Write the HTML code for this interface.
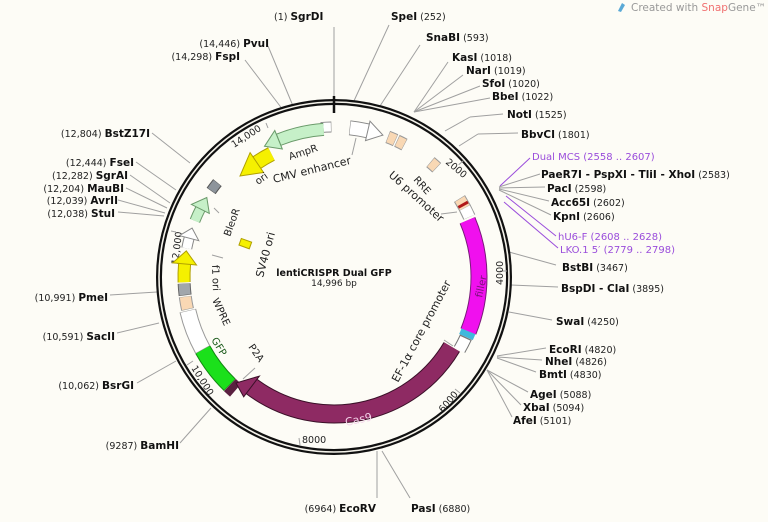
<!DOCTYPE html>
<html><head><meta charset="utf-8"><style>
html,body{margin:0;padding:0;background:#fdfcf6;}
svg{display:block;font-family:"DejaVu Sans","Liberation Sans",sans-serif;}
.b{font-weight:bold;font-size:10.5px;fill:#111;}
.n{font-size:9.5px;fill:#222;}
.p{font-size:10px;fill:#9a4ddb;}
.f{font-size:10px;fill:#222;}
.t{font-size:9.5px;fill:#222;}
line{stroke:#a0a0a0;stroke-width:1;}
.pl{stroke:#9a4ddb;}
</style></head><body>
<svg width="768" height="522" viewBox="0 0 768 522">
<rect width="768" height="522" fill="#fdfcf6"/>
<!-- logo -->
<path d="M618 11 L622 3 L625 5 L621 12 Z" fill="#5aa9d6"/>
<text x="631" y="11" font-size="10.5" fill="#999">Created with <tspan fill="#f07070">Snap</tspan>Gene™</text>

<!-- leader lines -->
<line x1="334" y1="27" x2="334" y2="103"/>
<line x1="389" y1="25" x2="353" y2="103"/>
<line x1="420" y1="45" x2="380" y2="106"/>
<line x1="448" y1="62" x2="414" y2="112"/>
<line x1="463" y1="75" x2="414" y2="112"/>
<line x1="480" y1="86" x2="414" y2="112"/>
<line x1="490" y1="98" x2="414" y2="112"/>
<line x1="503" y1="114" x2="470" y2="117"/><line x1="470" y1="117" x2="445" y2="131"/>
<line x1="518" y1="133" x2="478" y2="134"/><line x1="478" y1="134" x2="459" y2="146"/>
<line class="pl" x1="530" y1="158" x2="500" y2="186"/>
<line x1="540" y1="174" x2="499" y2="187"/>
<line x1="545" y1="187" x2="499" y2="188"/>
<line x1="549" y1="201" x2="499" y2="189"/>
<line x1="551" y1="215" x2="499" y2="190"/>
<line class="pl" x1="556" y1="236" x2="506" y2="196"/>
<line class="pl" x1="558" y1="248" x2="504" y2="202"/>
<line x1="556" y1="265" x2="509" y2="252"/>
<line x1="558" y1="287" x2="511" y2="285"/>
<line x1="552" y1="320" x2="509" y2="312"/>
<line x1="546" y1="348" x2="497" y2="356"/>
<line x1="542" y1="360" x2="497" y2="357"/>
<line x1="536" y1="372" x2="497" y2="358"/>
<line x1="528" y1="392" x2="487" y2="370"/>
<line x1="521" y1="405" x2="487" y2="370"/>
<line x1="512" y1="417" x2="487" y2="370"/>
<line x1="410" y1="498" x2="382" y2="451"/>
<line x1="377" y1="498" x2="377" y2="451"/>
<line x1="180" y1="443" x2="211" y2="408"/>
<line x1="137" y1="383" x2="176" y2="361"/>
<line x1="117" y1="333" x2="159" y2="323"/>
<line x1="110" y1="295" x2="157" y2="292"/>
<line x1="118" y1="212" x2="164" y2="216"/>
<line x1="118" y1="200" x2="165" y2="213"/>
<line x1="126" y1="188" x2="167" y2="208"/>
<line x1="130" y1="175" x2="170" y2="203"/>
<line x1="136" y1="162" x2="176" y2="190"/>
<line x1="152" y1="133" x2="190" y2="163"/>
<line x1="245" y1="60" x2="283" y2="110"/>
<line x1="268" y1="46" x2="293" y2="106"/>

<!-- backbone ring -->
<circle cx="334" cy="277" r="175" fill="none" stroke="#111" stroke-width="6"/>
<circle cx="334" cy="277" r="175" fill="none" stroke="#f4f2ea" stroke-width="1.6"/>
<line x1="334" y1="96" x2="334" y2="113" style="stroke:#111;stroke-width:2.5"/>

<!-- ticks -->
<g style="stroke:#222;stroke-width:1.5">
<line x1="458.7" y1="164.8" x2="463.3" y2="160.7"/>
<line x1="500" y1="271" x2="507" y2="271"/>
<line x1="455" y1="389" x2="460" y2="393"/>
<line x1="300" y1="445" x2="299" y2="438"/>
<line x1="187" y1="365" x2="193" y2="361"/>
<line x1="171" y1="231" x2="176" y2="232"/>
<line x1="266" y1="123" x2="268" y2="128"/>
</g>
<g class="t">
<text transform="translate(445,163) rotate(40)">2000</text>
<text transform="translate(503,285) rotate(-90)">4000</text>
<text transform="translate(443,413) rotate(-50)">6000</text>
<text x="302" y="443">8000</text>
<text transform="translate(191,368) rotate(58)">10,000</text>
<text transform="translate(178,265) rotate(-83)">12,000</text>
<text transform="translate(234,148) rotate(-33)">14,000</text>
</g>

<!-- features -->
<g fill="none">
<!-- Cas9 -->
<circle cx="334" cy="277" r="137" stroke="#3a1028" stroke-width="19" stroke-dasharray="231 2000" transform="rotate(30.7 334 277)"/>
<circle cx="334" cy="277" r="137" stroke="#8e2a63" stroke-width="17" stroke-dasharray="231 2000" transform="rotate(30.7 334 277)"/>
<!-- filler -->
<circle cx="334" cy="277" r="145" stroke="#7a1a7a" stroke-width="17" stroke-dasharray="114 2000" transform="rotate(-23 334 277)"/>
<circle cx="334" cy="277" r="145" stroke="#f010ee" stroke-width="15" stroke-dasharray="114 2000" transform="rotate(-23 334 277)"/>
<circle cx="334" cy="277" r="145" stroke="#3fb8dc" stroke-width="15" stroke-dasharray="6.3 2000" transform="rotate(22 334 277)"/>
<!-- EF1a -->
<circle cx="334" cy="277" r="145" stroke="#777" stroke-width="13" stroke-dasharray="14 2000" transform="rotate(24.5 334 277)"/>
<circle cx="334" cy="277" r="145" stroke="#fff" stroke-width="11" stroke-dasharray="13 2000" transform="rotate(25 334 277)"/>
<!-- U6 -->
<circle cx="334" cy="277" r="148" stroke="#999" stroke-width="13" stroke-dasharray="21 2000" transform="rotate(-32 334 277)"/>
<circle cx="334" cy="277" r="148" stroke="#f9d8b4" stroke-width="11" stroke-dasharray="10 2000" transform="rotate(-31.8 334 277)"/>
<circle cx="334" cy="277" r="148" stroke="#b01818" stroke-width="11" stroke-dasharray="3 2000" transform="rotate(-29.8 334 277)"/>
<circle cx="334" cy="277" r="148" stroke="#fff" stroke-width="11" stroke-dasharray="10 2000" transform="rotate(-27.8 334 277)"/>
<!-- RRE -->
<circle cx="334" cy="277" r="150" stroke="#999" stroke-width="13" stroke-dasharray="8.5 2000" transform="rotate(-50 334 277)"/>
<circle cx="334" cy="277" r="150" stroke="#f9d8b4" stroke-width="11" stroke-dasharray="7.5 2000" transform="rotate(-49.8 334 277)"/>
<circle cx="334" cy="277" r="150" stroke="#999" stroke-width="13" stroke-dasharray="8.5 2000" transform="rotate(-69 334 277)"/>
<circle cx="334" cy="277" r="150" stroke="#f9d8b4" stroke-width="11" stroke-dasharray="7.5 2000" transform="rotate(-68.8 334 277)"/>
<circle cx="334" cy="277" r="150" stroke="#999" stroke-width="13" stroke-dasharray="8.5 2000" transform="rotate(-65.2 334 277)"/>
<circle cx="334" cy="277" r="150" stroke="#f9d8b4" stroke-width="11" stroke-dasharray="7.5 2000" transform="rotate(-65 334 277)"/>
<!-- CMV enhancer -->
<circle cx="334" cy="277" r="150" stroke="#888" stroke-width="15" stroke-dasharray="19 2000" transform="rotate(-84 334 277)"/>
<circle cx="334" cy="277" r="150" stroke="#fff" stroke-width="13" stroke-dasharray="18 2000" transform="rotate(-83.8 334 277)"/>
<!-- small white -->
<circle cx="334" cy="277" r="150" stroke="#888" stroke-width="11" stroke-dasharray="10.5 2000" transform="rotate(265 334 277)"/>
<circle cx="334" cy="277" r="150" stroke="#fff" stroke-width="9" stroke-dasharray="9.5 2000" transform="rotate(265.2 334 277)"/>
<!-- AmpR -->
<circle cx="334" cy="277" r="148" stroke="#6a9a6a" stroke-width="13" stroke-dasharray="46.5 2000" transform="rotate(248 334 277)"/>
<circle cx="334" cy="277" r="148" stroke="#c6f0c8" stroke-width="11" stroke-dasharray="46 2000" transform="rotate(248.2 334 277)"/>
<!-- ori -->
<circle cx="334" cy="277" r="138" stroke="#b0a000" stroke-width="15" stroke-dasharray="17 2000" transform="rotate(236 334 277)"/>
<circle cx="334" cy="277" r="138" stroke="#f5f000" stroke-width="13" stroke-dasharray="17 2000" transform="rotate(236 334 277)"/>
<!-- gray box -->
<circle cx="334" cy="277" r="150" stroke="#555" stroke-width="11" stroke-dasharray="10.5 2000" transform="rotate(215 334 277)"/>
<circle cx="334" cy="277" r="150" stroke="#8d949b" stroke-width="9" stroke-dasharray="9.5 2000" transform="rotate(215.2 334 277)"/>
<!-- BleoR -->
<circle cx="334" cy="277" r="150" stroke="#6a9a6a" stroke-width="11" stroke-dasharray="13.1 2000" transform="rotate(202 334 277)"/>
<circle cx="334" cy="277" r="150" stroke="#c6f0c8" stroke-width="9" stroke-dasharray="13.5 2000" transform="rotate(202 334 277)"/>
<!-- white arrow -->
<circle cx="334" cy="277" r="150" stroke="#888" stroke-width="11" stroke-dasharray="10.5 2000" transform="rotate(191 334 277)"/>
<circle cx="334" cy="277" r="150" stroke="#fff" stroke-width="9" stroke-dasharray="11 2000" transform="rotate(191 334 277)"/>
<!-- f1 ori -->
<circle cx="334" cy="277" r="150" stroke="#b0a000" stroke-width="13" stroke-dasharray="18.3 2000" transform="rotate(178 334 277)"/>
<circle cx="334" cy="277" r="150" stroke="#f5f000" stroke-width="11" stroke-dasharray="18.8 2000" transform="rotate(178 334 277)"/>
<!-- gray & beige -->
<circle cx="334" cy="277" r="150" stroke="#666" stroke-width="13" stroke-dasharray="11.8 2000" transform="rotate(173 334 277)"/>
<circle cx="334" cy="277" r="150" stroke="#a1a6ab" stroke-width="11" stroke-dasharray="11 2000" transform="rotate(173.2 334 277)"/>
<circle cx="334" cy="277" r="150" stroke="#999" stroke-width="13" stroke-dasharray="13.1 2000" transform="rotate(167.5 334 277)"/>
<circle cx="334" cy="277" r="150" stroke="#f9d8b4" stroke-width="11" stroke-dasharray="12.3 2000" transform="rotate(167.7 334 277)"/>
<!-- WPRE -->
<circle cx="334" cy="277" r="150" stroke="#999" stroke-width="17" stroke-dasharray="42 2000" transform="rotate(151 334 277)"/>
<circle cx="334" cy="277" r="150" stroke="#fff" stroke-width="15" stroke-dasharray="41 2000" transform="rotate(151.2 334 277)"/>
<!-- GFP -->
<circle cx="334" cy="277" r="150" stroke="#118811" stroke-width="17" stroke-dasharray="44.5 2000" transform="rotate(134 334 277)"/>
<circle cx="334" cy="277" r="150" stroke="#1be01b" stroke-width="15" stroke-dasharray="44 2000" transform="rotate(134.2 334 277)"/>
<!-- P2A -->
<circle cx="334" cy="277" r="150" stroke="#5a2040" stroke-width="17" stroke-dasharray="7.8 2000" transform="rotate(131 334 277)"/>
</g>
<!-- arrowheads -->
<polygon points="259.4,376.1 243.7,396.8 236,383" fill="#8e2a63" stroke="#3a1028" stroke-width="1"/>
<polygon points="282.3,149 274.8,130.5 264.5,146.3" fill="#c6f0c8" stroke="#6a9a6a" stroke-width="1"/>
<polygon points="263.6,172.5 250.1,152.6 240,176" fill="#f5f000" stroke="#b0a000" stroke-width="1"/>
<polygon points="196.5,265 172.6,262.9 186.3,250.9" fill="#f5f000" stroke="#b0a000" stroke-width="1"/>
<polygon points="209.3,213.4 191.4,204.4 206.8,197.5" fill="#c6f0c8" stroke="#6a9a6a" stroke-width="1"/>
<polygon points="365.5,140.6 370,121.2 382.9,135.1" fill="#fff" stroke="#888" stroke-width="1"/>
<polygon points="198.8,240.7 179.4,235.6 192.1,228.1" fill="#fff" stroke="#888" stroke-width="1"/>
<!-- SV40 ori -->
<rect x="240" y="240" width="11" height="7" fill="#f5f000" stroke="#b0a000" transform="rotate(20 245 243)"/>
<!-- small leader lines for features -->
<line x1="356" y1="138" x2="352" y2="155"/>
<line x1="223" y1="258" x2="212" y2="255"/>
<line x1="219" y1="213" x2="214" y2="208"/>
<line x1="441" y1="214" x2="457" y2="212"/>
<line x1="444" y1="340" x2="453" y2="346"/>
<line x1="255" y1="368" x2="243" y2="379"/>

<!-- feature labels -->
<g class="f">
<text transform="translate(290,160) rotate(-18)">AmpR</text>
<text transform="translate(274,183) rotate(-14)" font-size="11">CMV enhancer</text>
<text transform="translate(258,185) rotate(-35)">ori</text>
<text transform="translate(413,180) rotate(48)">RRE</text>
<text transform="translate(388,176) rotate(42)" font-size="11">U6 promoter</text>
<text transform="translate(230,237) rotate(-70)">BleoR</text>
<text transform="translate(263,278) rotate(-75)" font-size="11">SV40 ori</text>
<text transform="translate(212,265) rotate(88)">f1 ori</text>
<text transform="translate(212,300) rotate(65)">WPRE</text>
<text transform="translate(248,347) rotate(55)">P2A</text>
<text transform="translate(211,340) rotate(58)" fill="#1a5a1a">GFP</text>
<text transform="translate(346,426) rotate(-12)" fill="#f4d4ea" font-size="11">Cas9</text>
<text transform="translate(482,298) rotate(-78)" fill="#7a117a">filler</text>
<text transform="translate(398,383) rotate(-62)" font-size="11">EF-1α core promoter</text>
</g>
<text x="334" y="276" text-anchor="middle" font-size="9.5" font-weight="bold" fill="#111">lentiCRISPR Dual GFP</text>
<text x="334" y="286" text-anchor="middle" font-size="9" fill="#222">14,996 bp</text>

<!-- site labels -->
<text x="274" y="20"><tspan class="n">(1) </tspan><tspan class="b">SgrDI</tspan></text>
<text x="391" y="20"><tspan class="b">SpeI</tspan><tspan class="n"> (252)</tspan></text>
<text x="426" y="41"><tspan class="b">SnaBI</tspan><tspan class="n"> (593)</tspan></text>
<text x="452" y="61"><tspan class="b">KasI</tspan><tspan class="n"> (1018)</tspan></text>
<text x="466" y="74"><tspan class="b">NarI</tspan><tspan class="n"> (1019)</tspan></text>
<text x="482" y="87"><tspan class="b">SfoI</tspan><tspan class="n"> (1020)</tspan></text>
<text x="492" y="100"><tspan class="b">BbeI</tspan><tspan class="n"> (1022)</tspan></text>
<text x="507" y="118"><tspan class="b">NotI</tspan><tspan class="n"> (1525)</tspan></text>
<text x="521" y="138"><tspan class="b">BbvCI</tspan><tspan class="n"> (1801)</tspan></text>
<text x="532" y="160" class="p">Dual MCS  (2558 .. 2607)</text>
<text x="541" y="178"><tspan class="b">PaeR7I - PspXI - TliI - XhoI</tspan><tspan class="n"> (2583)</tspan></text>
<text x="547" y="192"><tspan class="b">PacI</tspan><tspan class="n"> (2598)</tspan></text>
<text x="551" y="206"><tspan class="b">Acc65I</tspan><tspan class="n"> (2602)</tspan></text>
<text x="553" y="220"><tspan class="b">KpnI</tspan><tspan class="n"> (2606)</tspan></text>
<text x="558" y="240" class="p">hU6-F  (2608 .. 2628)</text>
<text x="560" y="253" class="p">LKO.1 5′  (2779 .. 2798)</text>
<text x="562" y="271"><tspan class="b">BstBI</tspan><tspan class="n"> (3467)</tspan></text>
<text x="561" y="292"><tspan class="b">BspDI - ClaI</tspan><tspan class="n"> (3895)</tspan></text>
<text x="556" y="325"><tspan class="b">SwaI</tspan><tspan class="n"> (4250)</tspan></text>
<text x="549" y="353"><tspan class="b">EcoRI</tspan><tspan class="n"> (4820)</tspan></text>
<text x="545" y="365"><tspan class="b">NheI</tspan><tspan class="n"> (4826)</tspan></text>
<text x="539" y="378"><tspan class="b">BmtI</tspan><tspan class="n"> (4830)</tspan></text>
<text x="530" y="398"><tspan class="b">AgeI</tspan><tspan class="n"> (5088)</tspan></text>
<text x="523" y="411"><tspan class="b">XbaI</tspan><tspan class="n"> (5094)</tspan></text>
<text x="513" y="424"><tspan class="b">AfeI</tspan><tspan class="n"> (5101)</tspan></text>
<text x="411" y="512"><tspan class="b">PasI</tspan><tspan class="n"> (6880)</tspan></text>
<text x="376" y="512" text-anchor="end"><tspan class="n">(6964) </tspan><tspan class="b">EcoRV</tspan></text>
<text x="179" y="449" text-anchor="end"><tspan class="n">(9287) </tspan><tspan class="b">BamHI</tspan></text>
<text x="134" y="389" text-anchor="end"><tspan class="n">(10,062) </tspan><tspan class="b">BsrGI</tspan></text>
<text x="115" y="340" text-anchor="end"><tspan class="n">(10,591) </tspan><tspan class="b">SacII</tspan></text>
<text x="108" y="301" text-anchor="end"><tspan class="n">(10,991) </tspan><tspan class="b">PmeI</tspan></text>
<text x="115" y="217" text-anchor="end"><tspan class="n">(12,038) </tspan><tspan class="b">StuI</tspan></text>
<text x="118" y="204" text-anchor="end"><tspan class="n">(12,039) </tspan><tspan class="b">AvrII</tspan></text>
<text x="124" y="192" text-anchor="end"><tspan class="n">(12,204) </tspan><tspan class="b">MauBI</tspan></text>
<text x="128" y="179" text-anchor="end"><tspan class="n">(12,282) </tspan><tspan class="b">SgrAI</tspan></text>
<text x="134" y="166" text-anchor="end"><tspan class="n">(12,444) </tspan><tspan class="b">FseI</tspan></text>
<text x="150" y="137" text-anchor="end"><tspan class="n">(12,804) </tspan><tspan class="b">BstZ17I</tspan></text>
<text x="240" y="60" text-anchor="end"><tspan class="n">(14,298) </tspan><tspan class="b">FspI</tspan></text>
<text x="269" y="47" text-anchor="end"><tspan class="n">(14,446) </tspan><tspan class="b">PvuI</tspan></text>
</svg>
</body></html>
